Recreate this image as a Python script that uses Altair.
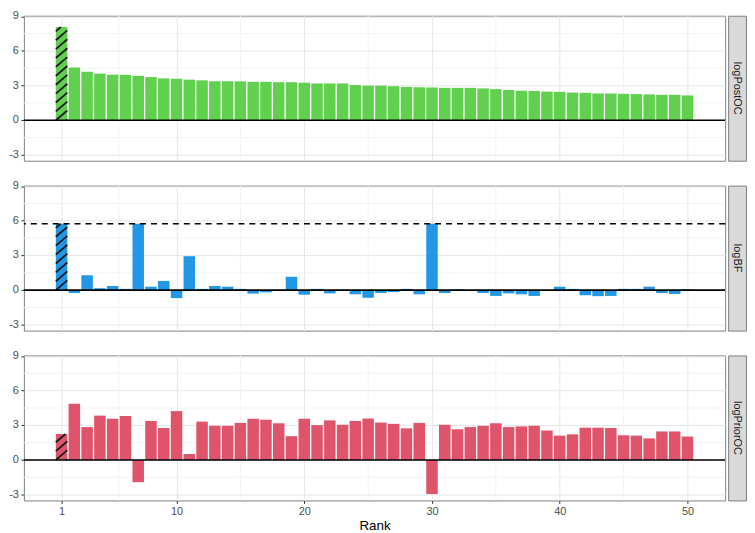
import altair as alt
import numpy as np
import pandas as pd

ranks = list(range(1, 51))
log_post_oc = [8.07, 4.58, 4.20, 4.04, 3.95, 3.93, 3.85, 3.74, 3.63, 3.60,
               3.52, 3.46, 3.38, 3.38, 3.37, 3.33, 3.33, 3.30, 3.30, 3.25,
               3.19, 3.19, 3.19, 3.05, 3.00, 3.00, 2.95, 2.89, 2.86, 2.84,
               2.81, 2.81, 2.81, 2.76, 2.70, 2.62, 2.56, 2.54, 2.48, 2.46,
               2.40, 2.37, 2.32, 2.32, 2.29, 2.27, 2.24, 2.21, 2.21, 2.15]
log_bf = [5.75, -0.25, 1.29, 0.17, 0.36, 0.11, 5.75, 0.30, 0.80, -0.69,
          2.94, 0.11, 0.36, 0.30, 0.11, -0.30, -0.19, 0.03, 1.16, -0.39,
          0.11, -0.28, 0.05, -0.36, -0.66, -0.25, -0.17, 0.11, -0.36, 5.75,
          -0.25, 0.08, 0.02, -0.25, -0.50, -0.28, -0.36, -0.50, 0.02, 0.30,
          0.11, -0.44, -0.52, -0.50, 0.11, 0.11, 0.30, -0.25, -0.33, 0.08]
log_prior_oc = [2.25, 4.86, 2.85, 3.84, 3.57, 3.81, -1.92, 3.38, 2.77, 4.23,
                0.52, 3.32, 2.96, 2.96, 3.21, 3.57, 3.49, 3.18, 2.06, 3.57,
                3.02, 3.43, 3.05, 3.38, 3.59, 3.24, 3.13, 2.74, 3.21, -2.94,
                3.05, 2.66, 2.85, 2.96, 3.18, 2.85, 2.91, 2.96, 2.55, 2.11,
                2.22, 2.80, 2.80, 2.77, 2.14, 2.11, 1.87, 2.47, 2.47, 2.03]

panel_names = ["logPostOC", "logBF", "logPriorOC"]
panel_colors = ["#61D04F", "#2297E6", "#DF536B"]
bf_threshold = 5.75
hatched_rank = 1

x_ticks = [1, 10, 20, 30, 40, 50]
x_minor = [5.5, 15, 25, 35, 45]
y_ticks = [-3, 0, 3, 6, 9]
y_minor = [-1.5, 1.5, 4.5, 7.5]

FONT = "Liberation Sans"
W, H = 706, 146
STRIP_W = 18
BAR_HALF = 0.45
MAJOR_GRID = "#E6E6E6"
MINOR_GRID = "#F3F3F3"

x_scale = alt.Scale(domain=[-1.95, 52.95], nice=False, zero=False)
y_scale = alt.Scale(domain=[-3.5, 9.05], nice=False, zero=False)


def x_axis(show_labels):
    common = dict(
        values=x_ticks,
        grid=True,
        gridColor=MAJOR_GRID,
        gridWidth=1,
        domain=False,
        labelOverlap=False,
        title="Rank" if show_labels else None,
    )
    if show_labels:
        return alt.Axis(
            **common,
            labelExpr="datum.value + ''",
            ticks=True,
            tickSize=3,
            tickColor="#333333",
            labelColor="#4D4D4D",
            labelFontSize=11,
            labelFont=FONT,
            labelPadding=2,
            titleFont=FONT,
            titleFontSize=13.5,
            titleFontWeight="normal",
            titleColor="#000000",
            titlePadding=2,
        )
    return alt.Axis(**common, labels=False, ticks=False)


y_axis = alt.Axis(
    values=y_ticks,
    labels=False,
    grid=True,
    gridColor=MAJOR_GRID,
    gridWidth=1,
    domain=False,
    ticks=True,
    tickSize=3,
    tickColor="#333333",
    title=None,
)


def hatch_segments(rank, value, rise=0.85, step=0.77):
    segs = []
    lo, hi = min(0.0, value), max(0.0, value)
    k = int(np.floor((lo - rise) / step)) - 1
    while k * step <= hi + 1e-9:
        y0 = k * step
        t0 = max(0.0, (lo - y0) / rise)
        t1 = min(1.0, (hi - y0) / rise)
        if t1 - t0 > 0.03:
            segs.append({
                "hx0": rank - BAR_HALF + t0 * 2 * BAR_HALF,
                "hy0": y0 + t0 * rise,
                "hx1": rank - BAR_HALF + t1 * 2 * BAR_HALF,
                "hy1": y0 + t1 * rise,
            })
        k += 1
    return segs


def panel(values, name, color, bottom, threshold=None):
    xa = x_axis(bottom)
    df = pd.DataFrame({"rank": ranks, "value": values})

    xminor = alt.Chart(pd.DataFrame({"gx": x_minor})).mark_rule(
        color=MINOR_GRID, strokeWidth=1
    ).encode(x=alt.X("gx:Q", scale=x_scale, axis=xa))
    yminor = alt.Chart(pd.DataFrame({"gy": y_minor})).mark_rule(
        color=MINOR_GRID, strokeWidth=1
    ).encode(y=alt.Y("gy:Q", scale=y_scale, axis=y_axis))

    bars = alt.Chart(df).transform_calculate(
        x0=f"datum.rank - {BAR_HALF}", x1=f"datum.rank + {BAR_HALF}", zero="0"
    ).mark_rect(color=color).encode(
        x=alt.X("x0:Q", scale=x_scale, axis=xa),
        x2="x1:Q",
        y=alt.Y("value:Q", scale=y_scale, axis=y_axis),
        y2="zero:Q",
    )
    hv = values[ranks.index(hatched_rank)]
    hdf = pd.DataFrame(hatch_segments(hatched_rank, hv))
    hatch = alt.Chart(hdf).mark_rule(color="#1A1A1A", strokeWidth=1.8).encode(
        x=alt.X("hx0:Q", scale=x_scale, axis=xa),
        x2="hx1:Q",
        y=alt.Y("hy0:Q", scale=y_scale, axis=y_axis),
        y2="hy1:Q",
    )
    zero = alt.Chart(pd.DataFrame({"y": [0]})).mark_rule(
        color="black", strokeWidth=1.6
    ).encode(y=alt.Y("y:Q", scale=y_scale, axis=y_axis))
    ylabels = alt.Chart(pd.DataFrame({"t": y_ticks, "s": [str(v) for v in y_ticks]})).mark_text(
        align="right", baseline="middle", dx=-5, fontSize=11, font=FONT, color="#4D4D4D"
    ).encode(
        x=alt.value(0),
        y=alt.Y("t:Q", scale=y_scale, axis=y_axis),
        text="s:N",
    )
    layers = [xminor, yminor, bars, hatch, zero]
    if threshold is not None:
        dash = alt.Chart(pd.DataFrame({"y": [threshold]})).mark_rule(
            color="black", strokeWidth=1.6, strokeDash=[6, 5]
        ).encode(y=alt.Y("y:Q", scale=y_scale, axis=y_axis))
        layers.append(dash)
    layers.append(ylabels)
    plot = alt.layer(*layers).properties(width=W, height=H)

    strip = alt.Chart(pd.DataFrame({"name": [name]})).mark_text(
        angle=90, fontSize=11, font=FONT, color="#1A1A1A"
    ).encode(
        text="name:N",
        x=alt.value(STRIP_W / 2),
        y=alt.value(H / 2),
    ).properties(
        width=STRIP_W, height=H,
        view=alt.ViewBackground(fill="#D9D9D9", stroke="#7F7F7F", strokeWidth=1),
    )
    return alt.hconcat(plot, strip, spacing=0)


rows = [
    panel(log_post_oc, panel_names[0], panel_colors[0], False),
    panel(log_bf, panel_names[1], panel_colors[1], False, threshold=bf_threshold),
    panel(log_prior_oc, panel_names[2], panel_colors[2], True),
]

chart = alt.vconcat(*rows, spacing=18).properties(
    padding=0, background="white"
).configure_view(
    stroke="#7F7F7F", strokeWidth=1
)

chart.save("out.html", embed_options={"renderer": "svg", "actions": False})
